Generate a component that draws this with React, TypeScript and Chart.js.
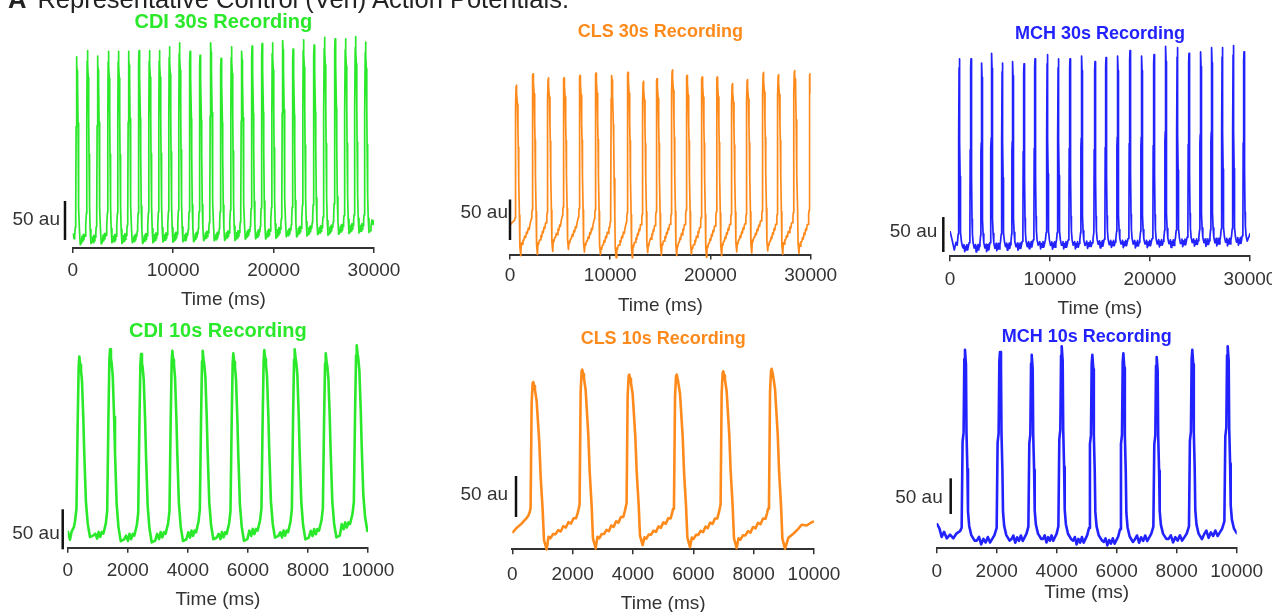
import React, { useEffect, useRef } from 'react';
import { Chart, registerables } from 'chart.js';

Chart.register(...registerables);

const FONT = '"Liberation Sans", Arial, Helvetica, sans-serif';

// ---------------- data ----------------
// CDI 30 s recording: peak times (ms), peak values (au), pre-upstroke baseline (au)
const CDI30_TIMES = [395, 1458, 2487, 3550, 4546, 5575, 6604, 7633, 8629, 9625, 10620, 11683, 12679, 13742, 14771, 15800, 16829, 17858, 18854, 19884, 20913, 21942, 22971, 24034, 25063, 26125, 27154, 28151, 29147];
const CDI30_PEAKS = [245, 253, 246, 252, 252, 252, 253, 253, 253, 258, 263, 252, 247, 263, 243, 258, 252, 259, 262, 263, 266, 255, 267, 260, 270, 268, 268, 271, 264];
const CDI30_BASES = [22, 24, 23, 25, 24, 25, 24, 25, 26, 26, 27, 26, 27, 28, 27, 28, 29, 30, 30, 31, 33, 32, 34, 35, 35, 36, 37, 38, 38];
const CDI30_LEAD: [number, number][] = [[0, 19], [130, 12], [200, 17]];
const CDI30_TRAIL: [number, number][] = [[29700, 28], [29800, 36], [29900, 30], [30000, 36]];

// CDI 10 s recording
const CDI10_TIMES = [387, 1410, 2443, 3484, 4495, 5515, 6547, 7559, 8592, 9624];
const CDI10_PEAKS = [239, 248, 242, 246, 246, 243, 247, 248, 243, 253];
const CDI10_BASES = [30, 26, 24, 26, 28, 26, 30, 28, 30, 38];
const CDI10_LEAD: [number, number][] = [[0, 21], [75, 10], [130, 20], [210, 26]];
const CDI10_TRAIL: [number, number][] = [];

// CLS 30 s recording
const CLS30_TIMES = [628, 2295, 3821, 5388, 6984, 8580, 10147, 11773, 13300, 14666, 16193, 17659, 19176, 20672, 22179, 23676, 25272, 26768, 28385, 29931];
const CLS30_PEAKS = [209, 223, 218, 218, 221, 224, 221, 225, 214, 217, 228, 221, 219, 219, 211, 216, 225, 222, 227, 223];
const CLS30_BASES = [42, 46, 48, 50, 48, 46, 42, 42, 46, 44, 46, 46, 42, 44, 46, 46, 50, 46, 48, 46];
const CLS30_LEAD: [number, number][] = [[0, 36], [250, 40], [450, 42]];
const CLS30_TRAIL: [number, number][] = [];

// CLS 10 s recording
const CLS10_TIMES = [696, 2320, 3878, 5449, 6994, 8598];
const CLS10_PEAKS = [204, 219, 213, 213, 217, 220];
const CLS10_BASES = [42, 46, 48, 46, 46, 46];
const CLS10_LEAD: [number, number][] = [[0, 20], [140, 26], [300, 31], [450, 37], [530, 41]];
const CLS10_TRAIL: [number, number][] = [[9150, 14], [9315, 19], [9480, 25], [9590, 30], [9756, 29], [9922, 33], [10000, 34]];

// MCH 30 s recording
const MCH30_TIMES = [930, 2100, 3170, 4170, 5230, 6270, 7400, 8500, 9730, 10830, 12000, 13170, 14500, 15600, 16770, 18000, 19170, 20400, 21570, 22730, 23900, 25070, 26170, 27230, 28330, 29400];
const MCH30_PEAKS = [282, 282, 276, 290, 276, 278, 275, 282, 288, 282, 282, 286, 278, 284, 286, 294, 286, 288, 300, 298, 290, 292, 298, 298, 301, 292];
const MCH30_BASES = [24, 22, 22, 22, 24, 24, 24, 26, 26, 26, 26, 26, 27, 27, 28, 28, 28, 28, 29, 29, 30, 30, 30, 31, 31, 32];
const MCH30_LEAD: [number, number][] = [[0, 36], [170, 26], [430, 9], [600, 20], [720, 16]];
const MCH30_TRAIL: [number, number][] = [[29950, 30], [30000, 33]];

// MCH 10 s recording
const MCH10_TIMES = [943, 2110, 3167, 4167, 5188, 6222, 7333, 8520, 9700];
const MCH10_PEAKS = [278, 275, 271, 283, 271, 273, 268, 278, 283];
const MCH10_BASES = [21, 21, 23, 23, 21, 19, 23, 23, 30];
const MCH10_LEAD: [number, number][] = [[0, 35], [90, 28], [165, 16], [245, 23], [335, 14], [445, 19], [555, 14], [665, 21], [780, 24]];
const MCH10_TRAIL: [number, number][] = [];

// Beat shapes: [ms from peak, fraction of (peak - baseline)]
const CDI_UP: [number, number][] = [[-140, 0.02], [-95, 0.09], [-55, 0.6], [-22, 0.94], [0, 1]];
const CDI_DOWN: [number, number][] = [[30, 0.95], [55, 0.92], [90, 0.85], [135, 0.62], [165, 0.42], [220, 0.13], [280, 0.0], [355, -0.08], [470, -0.07]];
// diastolic part: [fraction of the gap to the next beat, fraction of amplitude]
const CDI_REST: [number, number][] = [[0.15, -0.04], [0.3, -0.07], [0.42, -0.03], [0.55, -0.06], [0.68, -0.03], [0.8, -0.04], [0.9, -0.01]];

const CLS_UP: [number, number][] = [[-120, 0.02], [-90, 0.05], [-55, 0.84], [-22, 0.99], [0, 1]];
const CLS_DOWN: [number, number][] = [[30, 0.97], [55, 0.94], [110, 0.86], [166, 0.66], [200, 0.54], [243, 0.29], [310, 0.04], [354, -0.19], [442, -0.26]];
const CLS_REST: [number, number][] = [[0.06, -0.19], [0.12, -0.2], [0.2, -0.17], [0.28, -0.17], [0.36, -0.14], [0.44, -0.15], [0.52, -0.11], [0.6, -0.12], [0.68, -0.08], [0.76, -0.09], [0.84, -0.05], [0.92, -0.05], [0.97, -0.01]];

const MCH_UP: [number, number][] = [[-111, 0.03], [-80, 0.5], [-46, 0.55], [-22, 0.95], [0, 1]];
const MCH_DOWN: [number, number][] = [[33, 0.92], [50, 0.55], [80, 0.35], [100, 0.12], [140, 0.04], [210, -0.01], [320, -0.04]];
const MCH_REST: [number, number][] = [[0.1, -0.04], [0.2, -0.02], [0.3, -0.06], [0.4, -0.03], [0.5, -0.05], [0.6, -0.02], [0.7, -0.05], [0.8, -0.03], [0.9, -0.01]];

// ---------------- build traces ----------------
type Pt = { x: number; y: number };

function buildTrace(
  times: number[], peaks: number[], bases: number[],
  up: [number, number][], down: [number, number][], rest: [number, number][],
  lead: [number, number][], trail: [number, number][]
): Pt[] {
  const pts: Pt[] = [];
  lead.forEach(([x, y]) => pts.push({ x, y }));
  for (let i = 0; i < times.length; i++) {
    const t = times[i];
    const b = bases[i];
    const amp = peaks[i] - b;
    up.forEach(([dt, f]) => pts.push({ x: t + dt, y: b + f * amp }));
    down.forEach(([dt, f]) => pts.push({ x: t + dt, y: b + f * amp }));
    if (i < times.length - 1) {
      const t0 = t + down[down.length - 1][0];
      const t1 = times[i + 1] + up[0][0];
      const nb = bases[i + 1];
      rest.forEach(([u, f]) => pts.push({ x: t0 + u * (t1 - t0), y: nb + f * amp }));
    }
  }
  trail.forEach(([x, y]) => pts.push({ x, y }));
  return pts;
}

const GREEN = '#2ae82a';
const ORANGE = '#ff8a1c';
const BLUE = '#2222ff';

interface PanelCfg {
  title: string; color: string; titleColor: string; titleSize: number; points: Pt[]; lw: number;
  xMax: number; step: number;
  box: { x: number; y: number; w: number; h: number };
  L: number; R: number; B: number; titleY: number; tickY: number; axisTitleY: number; ppa: number;
  bar: { t: number; y0: number; dx: number; dy: number };
}

const PANELS: PanelCfg[] = [
  {
    title: 'CDI 30s Recording', color: GREEN, titleColor: GREEN, titleSize: 20, lw: 1.7,
    points: buildTrace(CDI30_TIMES, CDI30_PEAKS, CDI30_BASES, CDI_UP, CDI_DOWN, CDI_REST, CDI30_LEAD, CDI30_TRAIL),
    xMax: 30000, step: 10000, box: { x: 0, y: 0, w: 430, h: 330 },
    L: 72.7, R: 374, B: 248, titleY: 22.5, tickY: 270.5, axisTitleY: 300, ppa: 0.78,
    bar: { t: -767, y0: 10.3, dx: -5, dy: -1 },
  },
  {
    title: 'CLS 30s Recording', color: ORANGE, titleColor: ORANGE, titleSize: 18, lw: 1.7,
    points: buildTrace(CLS30_TIMES, CLS30_PEAKS, CLS30_BASES, CLS_UP, CLS_DOWN, CLS_REST, CLS30_LEAD, CLS30_TRAIL),
    xMax: 30000, step: 10000, box: { x: 420, y: 0, w: 450, h: 330 },
    L: 510, R: 810.7, B: 254.5, titleY: 32, tickY: 276, axisTitleY: 306, ppa: 0.81,
    bar: { t: 0, y0: 17.9, dx: -2, dy: -7 },
  },
  {
    title: 'MCH 30s Recording', color: BLUE, titleColor: BLUE, titleSize: 18, lw: 1.7,
    points: buildTrace(MCH30_TIMES, MCH30_PEAKS, MCH30_BASES, MCH_UP, MCH_DOWN, MCH_REST, MCH30_LEAD, MCH30_TRAIL),
    xMax: 30000, step: 10000, box: { x: 850, y: 0, w: 450, h: 330 },
    L: 950, R: 1250, B: 256.3, titleY: 34, tickY: 279.5, axisTitleY: 309, ppa: 0.7,
    bar: { t: -670, y0: 6.1, dx: -6, dy: -2.5 },
  },
  {
    title: 'CDI 10s Recording', color: GREEN, titleColor: GREEN, titleSize: 20, lw: 2.6,
    points: buildTrace(CDI10_TIMES, CDI10_PEAKS, CDI10_BASES, CDI_UP, CDI_DOWN, CDI_REST, CDI10_LEAD, CDI10_TRAIL),
    xMax: 10000, step: 2000, box: { x: 0, y: 316, w: 430, h: 310 },
    L: 67.7, R: 368, B: 547.7, titleY: 331.5, tickY: 570.5, axisTitleY: 600, ppa: 0.8,
    bar: { t: -166, y0: -2, dx: -3, dy: 4 },
  },
  {
    title: 'CLS 10s Recording', color: ORANGE, titleColor: ORANGE, titleSize: 18, lw: 2.6,
    points: buildTrace(CLS10_TIMES, CLS10_PEAKS, CLS10_BASES, CLS_UP, CLS_DOWN, CLS_REST, CLS10_LEAD, CLS10_TRAIL),
    xMax: 10000, step: 2000, box: { x: 420, y: 316, w: 450, h: 310 },
    L: 512.3, R: 814, B: 549.3, titleY: 339, tickY: 575, axisTitleY: 604, ppa: 0.82,
    bar: { t: 123, y0: 39.4, dx: -8, dy: -1.5 },
  },
  {
    title: 'MCH 10s Recording', color: BLUE, titleColor: BLUE, titleSize: 18, lw: 2.6,
    points: buildTrace(MCH10_TIMES, MCH10_PEAKS, MCH10_BASES, MCH_UP, MCH_DOWN, MCH_REST, MCH10_LEAD, MCH10_TRAIL),
    xMax: 10000, step: 2000, box: { x: 850, y: 316, w: 450, h: 310 },
    L: 936.7, R: 1236.7, B: 548.3, titleY: 337.5, tickY: 572, axisTitleY: 593, ppa: 0.714,
    bar: { t: 467, y0: 48, dx: -8, dy: 2 },
  },
];

const scaleBarPlugin = {
  id: 'scaleBar',
  afterDraw(chart: any, _args: any, opts: any) {
    const { ctx } = chart;
    const x = chart.scales.x;
    const y = chart.scales.y;
    const px = x.getPixelForValue(opts.t);
    const p0 = y.getPixelForValue(opts.y0);
    const p1 = y.getPixelForValue(opts.y0 + 50);
    ctx.save();
    ctx.strokeStyle = '#111';
    ctx.lineWidth = 2.5;
    ctx.beginPath();
    ctx.moveTo(px, p0);
    ctx.lineTo(px, p1);
    ctx.stroke();
    ctx.font = `19px ${FONT}`;
    ctx.fillStyle = '#333';
    ctx.textAlign = 'right';
    ctx.textBaseline = 'middle';
    ctx.fillText('50 au', px + opts.dx, (p0 + p1) / 2 + opts.dy);
    ctx.restore();
  },
};

function Panel({ cfg }: { cfg: PanelCfg }) {
  const ref = useRef<HTMLCanvasElement>(null);
  useEffect(() => {
    const c = ref.current;
    if (!c) return;
    const lh = cfg.titleSize * 1.2;
    const tlh = 19 * 1.2;
    const tickLen = 5;
    const padL = cfg.L - cfg.box.x;
    const padR = cfg.box.x + cfg.box.w - cfg.R;
    const top = cfg.titleY + lh / 2;
    const xH = cfg.box.y + cfg.box.h - cfg.B;
    const chart = new Chart(c, {
      type: 'line',
      data: {
        datasets: [{
          data: cfg.points as any,
          borderColor: cfg.color,
          borderWidth: cfg.lw,
          pointRadius: 0,
          tension: 0,
          fill: false,
          borderJoinStyle: 'round',
          clip: { left: 0, top: 20, right: 0, bottom: 4 } as any,
        }],
      },
      options: {
        responsive: false,
        animation: false,
        events: [],
        layout: { padding: { left: padL, right: padR, top: 0, bottom: 0 } },
        plugins: {
          legend: { display: false },
          tooltip: { enabled: false },
          title: {
            display: true,
            text: cfg.title,
            color: cfg.titleColor,
            fullSize: false,
            font: { family: FONT, size: cfg.titleSize, weight: 'bold', lineHeight: 1.2 },
            padding: { top: cfg.titleY - cfg.box.y - lh / 2, bottom: 0 },
          },
          scaleBar: cfg.bar,
        } as any,
        scales: {
          x: {
            type: 'linear',
            min: 0,
            max: cfg.xMax,
            afterFit: (s: any) => { s.height = xH; },
            border: { display: true, color: '#333', width: 2 },
            grid: { display: true, drawOnChartArea: false, drawTicks: true, tickLength: tickLen, color: '#333', lineWidth: 1.5 },
            ticks: {
              stepSize: cfg.step,
              autoSkip: false,
              maxRotation: 0,
              color: '#333',
              font: { family: FONT, size: 19 },
              padding: cfg.tickY - cfg.B - tickLen - tlh / 2,
              callback: (v: any) => String(v),
            },
            title: {
              display: true,
              text: 'Time (ms)',
              color: '#333',
              font: { family: FONT, size: 19, lineHeight: 1.2 },
              padding: { top: 0, bottom: cfg.box.y + cfg.box.h - cfg.axisTitleY - tlh / 2 },
            },
          },
          y: { type: 'linear', display: false, min: 0, max: (cfg.B - top) / cfg.ppa },
        },
      } as any,
      plugins: [scaleBarPlugin],
    });
    return () => chart.destroy();
  }, [cfg]);
  return (
    <canvas
      ref={ref}
      width={cfg.box.w}
      height={cfg.box.h}
      style={{ position: 'absolute', left: cfg.box.x, top: cfg.box.y, width: cfg.box.w, height: cfg.box.h }}
    />
  );
}

export default function App() {
  return (
    <div style={{ position: 'absolute', left: 0, top: 0, width: 1272, height: 612, background: '#fff', overflow: 'hidden' }}>
      {PANELS.map((p) => <Panel key={p.title} cfg={p} />)}
      <div style={{ position: 'absolute', left: 8, top: -13, fontFamily: FONT, fontSize: 25.5, lineHeight: '25px', color: '#222', whiteSpace: 'nowrap' }}>
        <b style={{ marginRight: 11 }}>A</b>Representative Control (Ven) Action Potentials.
      </div>
    </div>
  );
}
